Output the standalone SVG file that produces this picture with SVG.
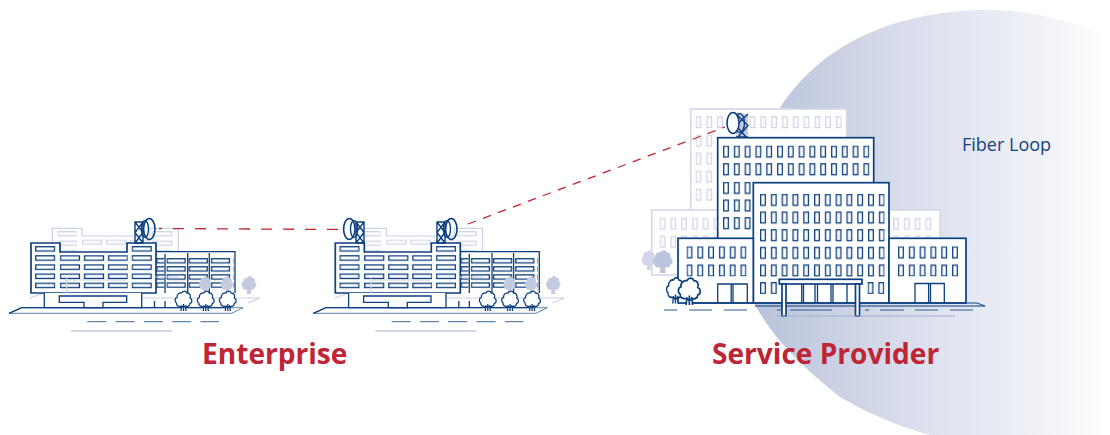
<svg xmlns="http://www.w3.org/2000/svg" width="1110" height="435" viewBox="0 0 1110 435">
<style>
.n{fill:none;stroke:#0b3f7e;stroke-width:1.3}
.nw{fill:#fff;stroke:#0b3f7e;stroke-width:1.3}
.nb{fill:#fff;stroke:#0b3f7e;stroke-width:1.7}
.dish{fill:#fff;stroke:#0b3f7e;stroke-width:1.6}
.arc{fill:none;stroke:#0b3f7e;stroke-width:1.4}
.p{fill:none;stroke:#ccd2e5;stroke-width:1.2}
.pw{fill:#fff;stroke:#d3d8e9;stroke-width:1.6}
.l{fill:none;stroke:#9fb0cf;stroke-width:1.2}
.d{fill:none;stroke:#3d6598;stroke-width:1;stroke-dasharray:19 9.3}
.g{fill:none;stroke:#2c5a93;stroke-width:1}
.lk{fill:none;stroke:#c1272d;stroke-width:1.3}
.t{font-family:"Open Sans","Noto Sans","Liberation Sans",sans-serif;font-weight:700;font-size:28.1px;fill:#be2535}
.f{font-family:"Open Sans","Noto Sans","Liberation Sans",sans-serif;font-size:18px;fill:#14427f}
</style>
<defs>
<linearGradient id="fade" gradientUnits="userSpaceOnUse" x1="745" y1="0" x2="1108" y2="0">
<stop offset="0" stop-color="#b8c1da"/><stop offset="0.5" stop-color="#dde1ee"/><stop offset="0.85" stop-color="#f3f4f9"/><stop offset="1" stop-color="#fff"/>
</linearGradient>
<pattern id="wn" patternUnits="userSpaceOnUse" width="10.8" height="17.65"><rect x=".7" y=".7" width="4.6" height="10.8" class="n"/></pattern>
<pattern id="wa" patternUnits="userSpaceOnUse" width="10.8" height="18.2"><rect x=".7" y=".7" width="4.6" height="10.8" class="n"/></pattern>
<pattern id="wp" patternUnits="userSpaceOnUse" width="10.8" height="18"><rect x=".8" y=".8" width="4.400" height="10.800" class="p"/></pattern>
<pattern id="we" patternUnits="userSpaceOnUse" width="24.1" height="9.15"><rect x=".7" y=".7" width="19" height="4.3" class="n"/></pattern>
<pattern id="ef" patternUnits="userSpaceOnUse" width="22.2" height="8.1"><rect x=".7" y=".7" width="18" height="4.2" class="n"/></pattern>
<pattern id="ep" patternUnits="userSpaceOnUse" width="24.1" height="9.6"><rect x=".7" y=".7" width="19" height="4" class="p"/></pattern>
<path id="tree" d="M6 20L6.500 15C3 16 1 14 1.500 12C-.5 11-.5 7 2 6.500C1.500 3 5 1.500 6.500 2C8-.5 11-.5 12 2C15 2 16 5 15 7C17.500 8 17.500 12 15 12.500C15 15 12 16 10.500 15L11 20M8.500 20V13M6.500 15L8.500 17M10.500 15L8.500 17"/>
<path id="lat" d="M0 0h8v21h-8zM0 0l8 10.500-8 10.500M8 0l-8 10.500 8 10.500"/>
<g id="campus">
<path class="p" d="M30 298l14-5"/>
<path class="p" d="M52.300 293V228.300H82V236H150V228.300H178.300V277H156"/>
<rect transform="translate(57.300 231)" width="19.500" height="29" fill="url(#ep)"/>
<rect transform="translate(152 231)" width="24" height="48" fill="url(#ep)"/>
<rect transform="translate(82 239.500)" width="68" height="6" fill="url(#ep)"/>
<rect x="156" y="251.700" width="79.500" height="42" fill="#fff"/>
<path class="n" d="M156 251.700H235V293M165 254V293M187.700 253V293M209.300 253V293"/>
<rect transform="translate(156.200 258)" width="8" height="30" fill="url(#ef)"/>
<rect transform="translate(166.400 258)" width="67" height="30" fill="url(#ef)"/>
<g fill="#c3cbe1" stroke="none">
<use href="#tree" transform="translate(199 276) scale(.72 .9)"/><use href="#tree" transform="translate(220.700 276) scale(.72 .9)"/><use href="#tree" transform="translate(241.500 276) scale(.88 .9)"/>
</g>
<path class="p" d="M141.700 298H260L248 303"/>
<path class="nb" d="M31 243H60V252H127V243H156V293H31z"/>
<rect transform="translate(35 246)" width="20.500" height="45" fill="url(#we)"/>
<rect transform="translate(131.500 246)" width="20.500" height="45" fill="url(#we)"/>
<rect transform="translate(59.700 255.150)" width="68" height="36" fill="url(#we)"/>
<path class="p" d="M66.700 278V293M66.700 280H126M155 277H178"/>
<path class="nw" d="M44.300 293V307.700H141.700V293"/>
<path class="n" d="M59.300 296H126.700V302.300H103V307.700H84V302.300H59.300z"/>
<path class="n" d="M154.500 301V307M165 301V307"/>
<path class="n" d="M9 313.300L21.700 307.700H243L231.700 313.300z" style="stroke:#5d7fab;stroke-width:1"/>
<path class="n" d="M9 313.300L21.700 307.700H231"/>
<g class="nw"><use href="#tree" x="175" y="291"/><use href="#tree" x="197.300" y="291"/><use href="#tree" x="219.300" y="291"/></g>
<path class="d" d="M87.300 321.700H219"/>
<path class="l" d="M71 331H172"/>
</g>
<g id="dishR"><use href="#lat" class="arc" x="135" y="222"/><ellipse cx="145" cy="229" rx="3.500" ry="8.500" class="arc"/><ellipse cx="149.300" cy="229" rx="5.700" ry="10.500" class="dish" style="fill:none"/></g>
<g id="dishL"><use href="#lat" class="arc" x="356" y="222"/><ellipse cx="354" cy="229" rx="3.500" ry="8.500" class="arc"/><ellipse cx="349.300" cy="229" rx="5.700" ry="10.500" class="dish" style="fill:none"/></g>
</defs>

<g id="fiber-loop">
<path d="M1110 37C1070 20 1030 10 990 10C905 10 825 38 780 108C750 145 742 200 743 240C744 270 750 295 755 305C775 340 800 365 840 397C865 412 900 427 930 435H1110Z" fill="url(#fade)"/>
<text class="f" x="962" y="151">Fiber Loop</text>
</g>

<g id="enterprise-1">
<use href="#campus"/>
<use href="#dishR"/>
<text class="t" x="202" y="363.500">Enterprise</text>
</g>

<g id="enterprise-2">
<use href="#campus" x="304.300"/>
<use href="#dishL"/>
<use href="#dishR" x="302"/>
</g>

<g id="service-provider">
<rect class="pw" x="690.700" y="109" width="156" height="110"/>
<rect transform="translate(695.500 116)" width="146" height="16" fill="url(#wp)"/>
<rect transform="translate(695.500 134.500)" width="21" height="72" fill="url(#wp)"/>
<rect class="pw" x="651.700" y="210" width="66" height="65"/>
<rect transform="translate(659.500 217.500)" width="60" height="34" fill="url(#wp)"/>
<rect class="pw" x="889" y="210" width="51" height="29"/>
<rect transform="translate(893 217.500)" width="43" height="20" fill="url(#wp)"/>
<g stroke="none"><use href="#tree" fill="#d0d6e8" transform="translate(641.500 250) scale(.85 1)"/><use href="#tree" fill="#bcc5dd" transform="translate(652.700 250) scale(1.18 1.15)"/></g>
<rect class="nb" x="717.700" y="137.700" width="156" height="110"/>
<rect transform="translate(723 145.500)" width="146.500" height="34" fill="url(#wn)"/>
<rect transform="translate(723 181.800)" width="28" height="50" fill="url(#wn)"/>
<rect class="nb" x="753.300" y="182.700" width="135.700" height="120.300"/>
<rect transform="translate(760 193.800)" width="124.500" height="83" fill="url(#wn)"/>
<rect transform="translate(760 282)" width="17" height="12" fill="url(#wn)"/>
<rect transform="translate(867.500 282)" width="17" height="12" fill="url(#wn)"/>
<rect class="nb" x="678" y="238.300" width="75.300" height="64.700"/>
<rect transform="translate(686.500 246.300)" width="60" height="30" fill="url(#wa)"/>
<path class="n" d="M717.700 303V284H747.300V303M731.200 284V303M733 284V303"/>
<rect class="nb" x="889" y="238.300" width="77" height="64.700"/>
<rect transform="translate(898 246.300)" width="60" height="30" fill="url(#wa)"/>
<path class="n" d="M915 303V283.500H944.300V303M928.600 283.500V303M930.500 283.500V303"/>
<path class="n" d="M801.700 284V303M803.500 284V303M815 284V303M817.500 284V303M831 284V303M833 284V303M847 284V303"/>
<path class="n" d="M690 303H977L985 306H755" style="stroke-width:1"/>
<rect class="nb" x="779.300" y="279.300" width="82.700" height="4.700"/>
<rect class="nb" x="782" y="284" width="4" height="32"/>
<rect class="nb" x="855.500" y="284" width="4" height="32"/>
<g class="nw"><use href="#tree" transform="translate(666.500 277.500) scale(1.05 1.3)"/><use href="#tree" transform="translate(678.300 278) scale(1.3 1.35)"/></g>
<path class="g" d="M664 310H677M689 310H712M724 310H747M777 310H781M790 310H832M865 310H869M880 310H904M915 310H938M950 310H973"/>
<path class="l" d="M777 316H955"/>
<rect x="736" y="114" width="12" height="23" fill="#c4cbdf"/>
<path class="arc" d="M736 114L748 125.500L738 137M748 114L736 125.500L746 137M736 137H748"/>
<ellipse cx="739.500" cy="123" rx="5" ry="9.500" class="arc"/>
<ellipse cx="733" cy="123" rx="6" ry="10.500" class="dish"/>
<text class="t" x="712" y="363.500">Service Provider</text>
</g>

<g id="connectors">
<path class="lk" d="M159 228.500L344 229.500" stroke-dasharray="11 11" stroke-dashoffset="8"/>
<path class="lk" d="M468 224L725 127" stroke-dasharray="8.500 7.500"/>
</g>
</svg>
